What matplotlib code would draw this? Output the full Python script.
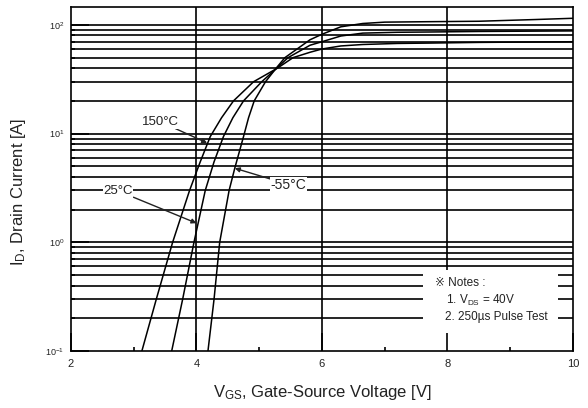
# Transfer characteristics: I_D vs V_GS at three temperatures
import matplotlib
matplotlib.use("Agg")
import matplotlib.pyplot as plt
from matplotlib.patches import Rectangle
from matplotlib.ticker import MultipleLocator, NullFormatter

plt.rcParams['font.family'] = ['Liberation Sans', 'DejaVu Sans']
plt.rcParams['mathtext.fontset'] = 'custom'
plt.rcParams['mathtext.rm'] = 'Liberation Sans'
plt.rcParams['mathtext.it'] = 'Liberation Sans:italic'
plt.rcParams['mathtext.bf'] = 'Liberation Sans:bold'

# curves (V_GS [V], I_D [A])
vgs_150 = [3.13, 3.36, 3.62, 3.89, 4.06, 4.22, 4.40, 4.59, 4.91, 5.29, 5.54, 5.81, 6.0, 6.3, 6.65, 7.2, 7.7, 8.5, 10.0]
id_150 = [0.1, 0.3, 1.0, 3.0, 5.5, 9.4, 14, 20, 30, 40, 50, 56, 60, 64, 66, 67.5, 68, 69, 70]

vgs_25 = [3.605, 3.78, 3.96, 4.14, 4.28, 4.43, 4.58, 4.75, 5.04, 5.28, 5.46, 5.81, 6.0, 6.3, 6.65, 7.2, 7.7, 8.5, 10.0]
id_25 = [0.1, 0.3, 1.0, 3.0, 5.5, 9.4, 14, 20, 30, 40, 50, 65, 70, 79, 84, 85.5, 86, 87, 88]

vgs_m55 = [4.183, 4.28, 4.37, 4.52, 4.61, 4.75, 4.83, 4.92, 5.10, 5.27, 5.41, 5.81, 6.0, 6.3, 6.65, 7.0, 7.7, 8.5, 9.4, 10.0]
id_m55 = [0.1, 0.3, 1.0, 3.0, 4.8, 9.4, 14, 20, 30, 40, 50, 73, 82, 96, 103, 106, 107, 108, 112, 115]

x_ticks = [2, 4, 6, 8, 10]
ink = '#222222'

fig = plt.figure(figsize=(5.88, 4.08), dpi=100)
ax = fig.add_axes([0.1207, 0.1397, 0.8538, 0.8431])

ax.set_yscale('log')
ax.set_xlim(2, 10)
ax.set_ylim(0.1, 146)
ax.set_xticks(x_ticks)
ax.xaxis.set_minor_locator(MultipleLocator(1))
ax.yaxis.set_minor_formatter(NullFormatter())

# grid lines drawn by hand so the notes box can sit between them and the ticks
ylo, yhi = ax.get_ylim()
for y in list(ax.get_yticks()) + list(ax.get_yticks(minor=True)):
    if ylo < y < yhi:
        ax.axhline(y, color='black', lw=1.2, zorder=0.8)
for x in x_ticks[1:-1]:
    ax.axvline(x, color='black', lw=1.2, zorder=0.8)

ax.add_patch(Rectangle((0.701, 0.0), 0.269, 0.235, transform=ax.transAxes,
                       facecolor='white', edgecolor='none', zorder=1))

for v, i in [(vgs_150, id_150), (vgs_25, id_25), (vgs_m55, id_m55)]:
    ax.plot(v, i, color='black', lw=1.1, zorder=2)

for s in ax.spines.values():
    s.set_linewidth(1.2)
ax.tick_params(which='major', direction='in', length=13, width=1.2, colors='black',
               labelcolor=ink, labelsize=8)
ax.tick_params(axis='x', which='major', pad=6)
ax.tick_params(axis='y', which='major', pad=5, labelsize=6.5)
ax.tick_params(which='minor', direction='in', length=3, width=1.2)

arrow = dict(arrowstyle='-|>', color=ink, lw=1.0, mutation_scale=7, shrinkA=0, shrinkB=0)
box = dict(facecolor='white', edgecolor='none', pad=0.5)
ax.annotate('150°C', xy=(4.17, 8.2), xytext=(3.43, 12.8), ha='center', va='center',
            fontsize=9.5, color=ink, arrowprops=arrow, bbox=box, zorder=3)
ax.annotate('25°C', xy=(4.0, 1.5), xytext=(2.75, 2.97), ha='center', va='center',
            fontsize=9.5, color=ink, arrowprops=arrow, bbox=box, zorder=3)
ax.annotate('-55°C', xy=(4.61, 4.8), xytext=(5.47, 3.4), ha='center', va='center',
            fontsize=10, color=ink, arrowprops=arrow, bbox=box, zorder=3)

ax.text(0.725, 0.198, '※ Notes :', transform=ax.transAxes, fontsize=8.5, color=ink,
        va='center', zorder=3)
ax.text(0.748, 0.148, '1. V$_\\mathrm{DS}$ = 40V', transform=ax.transAxes, fontsize=8.5,
        color=ink, va='center', zorder=3)
ax.text(0.745, 0.100, '2. 250µs Pulse Test', transform=ax.transAxes, fontsize=8.5,
        color=ink, va='center', zorder=3)

ax.set_xlabel('V$_\\mathrm{GS}$, Gate-Source Voltage [V]', fontsize=12, color=ink)
ax.set_ylabel('I$_\\mathrm{D}$, Drain Current [A]', fontsize=12, color=ink)
ax.xaxis.set_label_coords(0.5, -0.093)
ax.yaxis.set_label_coords(-0.0857, 0.462)

fig.savefig('out.png', dpi=100)
